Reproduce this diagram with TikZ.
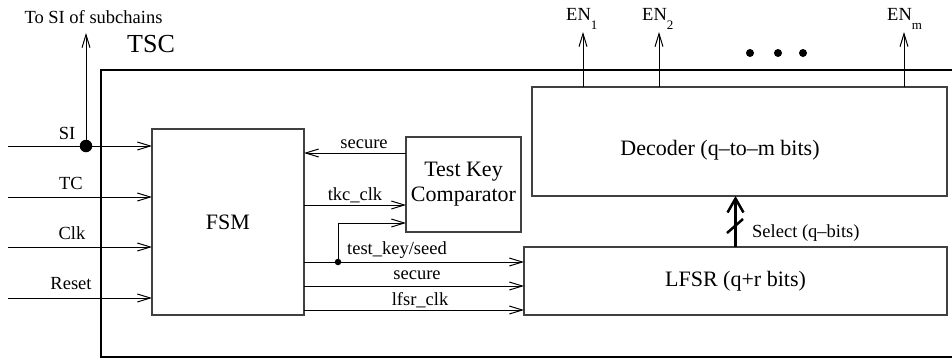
\documentclass[tikz,border=0pt]{standalone}
\usepackage{fontspec}
\setmainfont{Liberation Serif}
\usetikzlibrary{arrows.meta}
\begin{document}
\begin{tikzpicture}[x=1pt,y=-1pt,
  box/.style={draw=black!75, line width=1.2pt, inner sep=0pt, outer sep=0pt},
  arr/.style={line width=1pt, -{Straight Barb[length=13pt,width=8pt]}},
  lbl/.style={font=\fontsize{18.5}{20}\selectfont, inner sep=0pt},
  big/.style={font=\fontsize{22}{25}\selectfont},
  dot/.style={circle, fill=black, inner sep=0pt}]
\clip (0,0) rectangle (952,360);
\fill[white] (0,0) rectangle (952,360);
% outer TSC frame (runs off the right edge)
\draw[line width=1.5pt] (965,70) -- (101,70) -- (101,357) -- (965,357);
\node[font=\fontsize{26}{30}\selectfont, inner sep=0pt] (tsclbl) at (151,44) {TSC};

% blocks
\node[box, minimum width=152pt, minimum height=186pt, big] (fsm) at (228,222) {FSM};
\node[box, minimum width=115pt, minimum height=95pt, big, align=center] (tkc) at (463.5,184.5) {Test Key\\Comparator};
\node[box, minimum width=415pt, minimum height=109pt] (dec) at (739.5,141.5) {};
\node[big, inner sep=0pt] (dectxt) at (720,150) {Decoder (q–to–m bits)};
\node[box, minimum width=423pt, minimum height=68pt, big] (lfsr) at (735.5,281) {LFSR (q+r bits)};

% inputs
\coordinate (inSI) at (8,146);
\coordinate (inTC) at (8,197);
\coordinate (inClk) at (8,247);
\coordinate (inRst) at (8,298);
\draw[arr] (inSI) -- (fsm.west |- inSI);
\draw[arr] (inTC) -- (fsm.west |- inTC);
\draw[arr] (inClk) -- (fsm.west |- inClk);
\draw[arr] (inRst) -- (fsm.west |- inRst);
\node[lbl] (lSI) at (67,133) {SI};
\node[lbl] (lTC) at (71,183) {TC};
\node[lbl] (lClk) at (72,233) {Clk};
\node[lbl] (lRst) at (71,284) {Reset};

% SI branch to subchains
\node[dot, minimum size=12.5pt] (jSI) at (86,146) {};
\coordinate (toSI) at (86,33);
\draw[arr] (jSI.center) -- (toSI);
\node[lbl] (ltoSI) at (93.5,17) {To SI of subchains};

% FSM <-> Test Key Comparator
\coordinate (ysec) at (0,153);
\coordinate (ytkc) at (0,205);
\coordinate (ybr) at (0,223);
\draw[arr] (tkc.west |- ysec) -- (fsm.east |- ysec);
\node[lbl] (lsec1) at (364,144) {secure};
\draw[arr] (fsm.east |- ytkc) -- (tkc.west |- ytkc);
\node[lbl] (ltkc) at (355,195) {tkc\_clk};

% FSM -> LFSR
\coordinate (ytk) at (0,262);
\coordinate (ysec2) at (0,286);
\coordinate (ylc) at (0,310);
\draw[arr] (fsm.east |- ytk) -- (lfsr.west |- ytk);
\node[dot, minimum size=6.5pt] (jtk) at (338,262) {};
\draw[arr] (jtk.center) |- (tkc.west |- ybr);
\node[lbl] (ltk) at (397,250) {test\_key/seed};
\draw[arr] (fsm.east |- ysec2) -- (lfsr.west |- ysec2);
\node[lbl] (lsec2) at (417,275) {secure};
\draw[arr] (fsm.east |- ylc) -- (lfsr.west |- ylc);
\node[lbl] (llc) at (420,300) {lfsr\_clk};

% LFSR -> Decoder select bus
\draw[line width=2.5pt, -{Straight Barb[length=14pt,width=16pt]}] (lfsr.north) -- (dec.south -| lfsr.north);
\draw[line width=2.5pt] (727,233) -- (743,219);
\node[lbl, anchor=west] (lsel) at (752,233) {Select (q–bits)};

% Decoder outputs
\coordinate (en1) at (583,32);
\coordinate (en2) at (659,32);
\coordinate (enm) at (904,32);
\draw[arr] (dec.north -| en1) -- (en1);
\draw[arr] (dec.north -| en2) -- (en2);
\draw[arr] (dec.north -| enm) -- (enm);
\node[lbl, anchor=base west] (len1) at (566,20) {EN\raisebox{-9pt}{\fontsize{13}{13}\selectfont 1}};
\node[lbl, anchor=base west] (len2) at (642,20) {EN\raisebox{-9pt}{\fontsize{13}{13}\selectfont 2}};
\node[lbl, anchor=base west] (lenm) at (887,20) {EN\raisebox{-9pt}{\fontsize{13}{13}\selectfont m}};
\node[dot, minimum size=8pt] (d1) at (750,53) {};
\node[dot, minimum size=8pt] (d2) at (778,53) {};
\node[dot, minimum size=8pt] (d3) at (803,53) {};
\end{tikzpicture}
\end{document}
